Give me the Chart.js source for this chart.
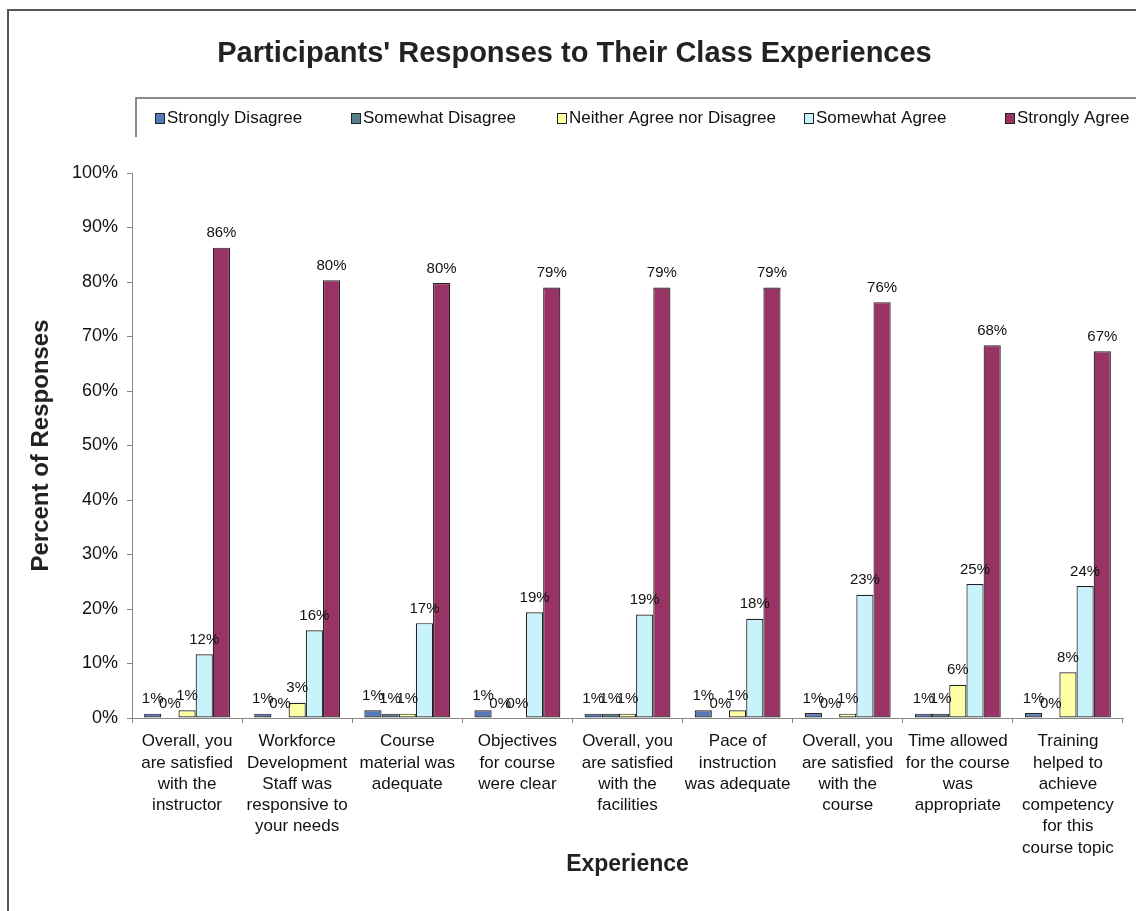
<!DOCTYPE html>
<html>
<head>
<meta charset="utf-8">
<script src="https://cdn.jsdelivr.net/npm/chart.js@4.4.1/dist/chart.umd.min.js"></script>
<style>
  html, body { margin: 0; padding: 0; background: #ffffff; }
  #wrap { width: 1136px; height: 911px; position: relative; }
</style>
</head>
<body>
<div id="wrap"><canvas id="c" width="1136" height="911"></canvas></div>
<script>
const titleText = "Participants' Responses to Their Class Experiences";
const yAxisTitle = "Percent of Responses";
const xAxisTitle = "Experience";

const categories = [
  ["Overall, you", "are satisfied", "with the", "instructor"],
  ["Workforce", "Development", "Staff was", "responsive to", "your needs"],
  ["Course", "material was", "adequate"],
  ["Objectives", "for course", "were clear"],
  ["Overall, you", "are satisfied", "with the", "facilities"],
  ["Pace of", "instruction", "was adequate"],
  ["Overall, you", "are satisfied", "with the", "course"],
  ["Time allowed", "for the course", "was", "appropriate"],
  ["Training", "helped to", "achieve", "competency", "for this", "course topic"]
];

const seriesNames = ["Strongly Disagree", "Somewhat Disagree", "Neither Agree nor Disagree", "Somewhat Agree", "Strongly Agree"];
const stronglyDisagree = [0.8, 0.8, 1.4, 1.4, 0.8, 1.4, 0.9, 0.8, 0.9];
const somewhatDisagree = [0, 0, 0.8, 0, 0.8, 0, 0, 0.8, 0];
const neitherAgree     = [1.4, 2.8, 0.8, 0, 0.8, 1.4, 0.8, 6.1, 8.4];
const somewhatAgree    = [11.7, 16.1, 17.4, 19.4, 19.0, 18.2, 22.6, 24.6, 24.2];
const stronglyAgree    = [86.3, 80.3, 79.8, 79.0, 79.0, 79.0, 76.3, 68.4, 67.3];
const seriesColors = ["#5878bc", "#557e88", "#ffffa6", "#c9f3fa", "#993366"];
const yTicks = [0, 10, 20, 30, 40, 50, 60, 70, 80, 90, 100];

const FONT = "Arial, 'Liberation Sans', sans-serif";

const allSeries = [stronglyDisagree, somewhatDisagree, neitherAgree, somewhatAgree, stronglyAgree];

const datasets = allSeries.map((vals, i) => ({
  label: seriesNames[i],
  data: vals,
  backgroundColor: seriesColors[i],
  borderColor: "#222222",
  borderWidth: 1.2,
  borderSkipped: false,
  categoryPercentage: 0.78,
  barPercentage: 1.0
}));

const decorPlugin = {
  id: "decor",
  afterDraw(chart) {
    const ctx = chart.ctx;
    ctx.save();
    // outer frame (left and top edges)
    ctx.strokeStyle = "#555555";
    ctx.lineWidth = 2;
    ctx.beginPath();
    ctx.moveTo(8, 911);
    ctx.lineTo(8, 10);
    ctx.lineTo(1136, 10);
    ctx.stroke();
    // legend frame
    ctx.strokeStyle = "#666666";
    ctx.lineWidth = 1.5;
    ctx.beginPath();
    ctx.moveTo(136, 137);
    ctx.lineTo(136, 98);
    ctx.lineTo(1136, 98);
    ctx.stroke();
    // legend items
    const boxX = [155, 351, 557, 804, 1005];
    const ly = 118;
    ctx.font = "17px " + FONT;
    ctx.textBaseline = "middle";
    ctx.textAlign = "left";
    chart.data.datasets.forEach((ds, i) => {
      ctx.fillStyle = ds.backgroundColor;
      ctx.fillRect(boxX[i], ly - 5, 9, 10);
      ctx.strokeStyle = "#222222";
      ctx.lineWidth = 1;
      ctx.strokeRect(boxX[i] + 0.5, ly - 4.5, 9, 10);
      ctx.fillStyle = "#111111";
      ctx.fillText(ds.label, boxX[i] + 12, ly);
    });
    ctx.restore();
  },
  afterDatasetsDraw(chart) {
    const ctx = chart.ctx;
    ctx.save();
    ctx.font = "15px " + FONT;
    ctx.fillStyle = "#111111";
    ctx.textAlign = "center";
    ctx.textBaseline = "bottom";
    chart.data.datasets.forEach((ds, i) => {
      const meta = chart.getDatasetMeta(i);
      meta.data.forEach((el, j) => {
        const v = ds.data[j];
        ctx.fillText(Math.round(v) + "%", el.x, el.y - 7);
      });
    });
    ctx.restore();
  }
};

new Chart(document.getElementById("c"), {
  type: "bar",
  data: { labels: categories, datasets: datasets },
  options: {
    responsive: false,
    animation: false,
    devicePixelRatio: 1,
    layout: { padding: { left: 26, right: 13, top: 0, bottom: 0 } },
    plugins: {
      legend: { display: false },
      tooltip: { enabled: false },
      title: {
        display: true,
        text: titleText,
        color: "#222222",
        font: { family: FONT, size: 29, weight: "bold", lineHeight: 1.2 },
        padding: { top: 37, bottom: 101.2 }
      }
    },
    scales: {
      x: {
        grid: { display: true, drawOnChartArea: false, drawTicks: true, tickLength: 5, color: "#888888", offset: true },
        border: { display: true, color: "#888888", width: 1 },
        ticks: {
          color: "#111111",
          font: { family: FONT, size: 17, lineHeight: 1.25 },
          maxRotation: 0,
          autoSkip: false,
          padding: 8
        },
        title: {
          display: true,
          text: xAxisTitle,
          color: "#222222",
          font: { family: FONT, size: 23, weight: "bold", lineHeight: 1.2 },
          padding: { top: 0, bottom: 33 }
        },
        afterFit(scale) { scale.height = 193; }
      },
      y: {
        min: 0,
        max: 100,
        afterBuildTicks(scale) { scale.ticks = yTicks.map(v => ({ value: v })); },
        grid: { display: true, drawOnChartArea: false, drawTicks: true, tickLength: 5, color: "#888888" },
        border: { display: true, color: "#888888", width: 1 },
        ticks: {
          color: "#111111",
          font: { family: FONT, size: 18 },
          padding: 9,
          callback: v => v + "%"
        },
        title: {
          display: true,
          text: yAxisTitle,
          color: "#222222",
          font: { family: FONT, size: 24, weight: "bold", lineHeight: 1.2 },
          padding: { top: 1, bottom: 0 }
        },
        afterFit(scale) { scale.width = 106; }
      }
    }
  },
  plugins: [decorPlugin]
});
</script>
</body>
</html>
